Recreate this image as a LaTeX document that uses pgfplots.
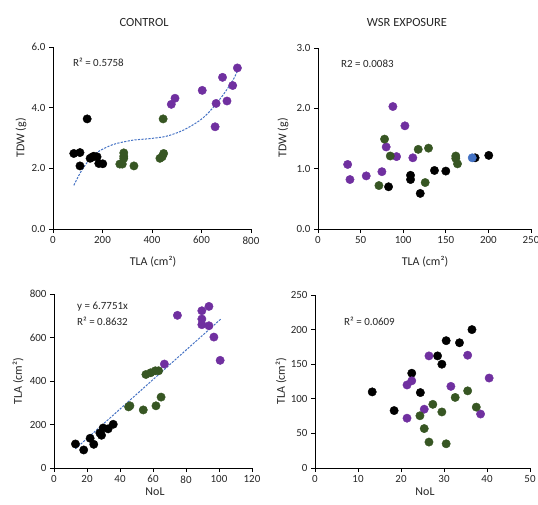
\documentclass[border=0pt]{standalone}
\usepackage{fontspec}
\setmainfont{Carlito}
\usepackage{pgfplots}
\pgfplotsset{compat=1.18}
\definecolor{grp}{HTML}{375623}
\definecolor{pur}{HTML}{7030A0}
\definecolor{trend}{HTML}{4472C4}

\pgfplotsset{
  panel/.style={
    scale only axis,
    anchor=south west,
    axis x line=bottom, axis y line=left,
    axis line style={-, black, line width=0.8pt},
    tick align=outside, major tick length=4bp,
    tick style={black, line width=0.8pt},
    minor tick num=0,
    ticklabel style={font=\fontsize{11}{12}\selectfont, color=black!85},
    /pgf/number format/assume math mode=true,
    clip=false,
  },
  dots/.style={only marks, mark=*, mark size=4.2bp, color=#1},
  trendline/.style={trend, line width=1pt, dash pattern=on 2.2bp off 1.3bp},
}

\begin{document}
\begin{tikzpicture}[x=1bp,y=1bp]
\path[use as bounding box] (0,0) rectangle (538,-505);

% top left: control, TDW vs TLA
\begin{axis}[panel, at={(53bp,-229bp)}, width=198bp, height=182bp,
  xmin=0, xmax=800, xtick={0,200,...,800},
  ymin=0, ymax=6, ytick={0,2,4,6},
  yticklabel style={/pgf/number format/.cd, fixed, fixed zerofill, precision=1}]
\addplot[trendline, smooth] coordinates {
  (84,1.44) (110,1.85) (135,2.16) (162,2.42) (189,2.58) (223,2.72) (257,2.82)
  (324,2.93) (392,2.98) (459,3.06) (527,3.26) (595,3.59) (640,3.94)
  (690,4.45) (730,4.95) (745,5.22)};
\addplot[dots=black] coordinates {
  (84,2.49) (109,2.52) (109,2.08) (138,3.63) (150,2.33) (158,2.37)
  (165,2.40) (178,2.38) (185,2.16) (201,2.15)};
\addplot[dots=grp] coordinates {
  (270,2.14) (280,2.14) (286,2.51) (286,2.40) (286,2.33) (327,2.08)
  (432,2.33) (441,2.38) (447,2.49) (445,3.63)};
\addplot[dots=pur] coordinates {
  (478,4.11) (493,4.31) (603,4.57) (655,3.37) (659,4.14) (685,5.00)
  (703,4.22) (726,4.73) (745,5.31)};
\end{axis}

% top right: WSR exposure, TDW vs TLA
\begin{axis}[panel, at={(318bp,-229bp)}, width=213bp, height=181bp,
  xmin=0, xmax=250, xtick={0,50,...,250},
  ymin=0, ymax=3, ytick={0,1,2,3},
  yticklabel style={/pgf/number format/.cd, fixed, fixed zerofill, precision=1}]
\addplot[dots=pur] coordinates {
  (34.8,1.07) (37.5,0.82) (56.6,0.88) (75,0.95) (80,1.36) (87.9,2.03)
  (92.2,1.20) (102,1.71) (111.3,1.18)};
\addplot[dots=grp] coordinates {
  (71.5,0.72) (78.1,1.49) (84.8,1.21) (117.6,1.32) (129.7,1.34)
  (125.8,0.77) (161.7,1.21) (161.7,1.17) (163.7,1.08)};
\addplot[dots=black] coordinates {
  (82.8,0.70) (108.6,0.89) (108.6,0.82) (120,0.59) (136.7,0.97)
  (150,0.96) (184.4,1.18) (200.4,1.22)};
\addplot[dots=trend] coordinates {(181,1.18)};
\end{axis}

% bottom left: control, TLA vs NoL
\begin{axis}[panel, at={(54bp,-468bp)}, width=198bp, height=174bp,
  xmin=0, xmax=120, xtick={0,20,...,120},
  ymin=0, ymax=800, ytick={0,200,...,800}]
\addplot[trendline] coordinates {(13,88.08) (101,684.29)};
\addplot[dots=black] coordinates {
  (13,110.6) (18,83) (21.9,136.7) (24.1,109) (27.8,161) (28.8,150.5)
  (29.8,184) (32.8,180) (35.9,201)};
\addplot[dots=grp] coordinates {
  (45.2,281) (46,286) (54.1,267) (55.7,430) (58.6,438) (61.4,447)
  (63.4,447) (61.8,286) (64.9,326)};
\addplot[dots=pur] coordinates {
  (66.9,478) (74.8,702) (89.6,723) (89.6,685) (89.6,659) (93.9,743)
  (93.9,654) (96.9,602) (100.7,495)};
\end{axis}

% bottom right: WSR exposure, TLA vs NoL
\begin{axis}[panel, at={(315bp,-468bp)}, width=215bp, height=173bp,
  xmin=0, xmax=50, xtick={0,10,...,50},
  ymin=0, ymax=250, ytick={0,50,...,250}]
\addplot[dots=black] coordinates {
  (13.3,110) (18.4,83) (22.5,137) (24.5,109) (28.5,162) (29.5,150)
  (30.5,184) (33.6,181) (36.5,200)};
\addplot[dots=pur] coordinates {
  (21.4,120) (22.5,126) (21.4,72) (25.4,85) (26.5,162) (31.6,118)
  (35.5,163) (38.5,78) (40.5,130)};
\addplot[dots=grp] coordinates {
  (27.4,92) (24.4,75.5) (25.4,57) (26.5,37.5) (29.5,81) (30.5,35)
  (32.6,102) (35.5,111.5) (37.5,88)};
\end{axis}

% titles, axis labels and annotations
\begin{scope}[every node/.style={font=\fontsize{12}{13}\selectfont, color=black!85}]
\node[font=\fontsize{12.5}{14}\selectfont] at (144,-23) {CONTROL};
\node[font=\fontsize{12.5}{14}\selectfont] at (407,-23) {WSR EXPOSURE};
\node at (153,-262) {TLA (cm²)};
\node at (425,-262) {TLA (cm²)};
\node at (155,-492) {NoL};
\node at (425,-492) {NoL};
\node[rotate=90] at (21,-138) {TDW (g)};
\node[rotate=90] at (283,-138) {TDW (g)};
\node[rotate=90] at (18,-381) {TLA (cm²)};
\node[rotate=90] at (281,-381) {TLA (cm²)};
\end{scope}
\begin{scope}[every node/.style={font=\fontsize{11}{13}\selectfont, color=black!85, anchor=west, inner sep=0pt}]
\node at (73,-62) {R² = 0.5758};
\node at (341,-64) {R2 = 0.0083};
\node at (77,-307) {y = 6.7751x};
\node at (77,-321) {R² = 0.8632};
\node at (344,-321) {R² = 0.0609};
\end{scope}
\end{tikzpicture}
\end{document}
